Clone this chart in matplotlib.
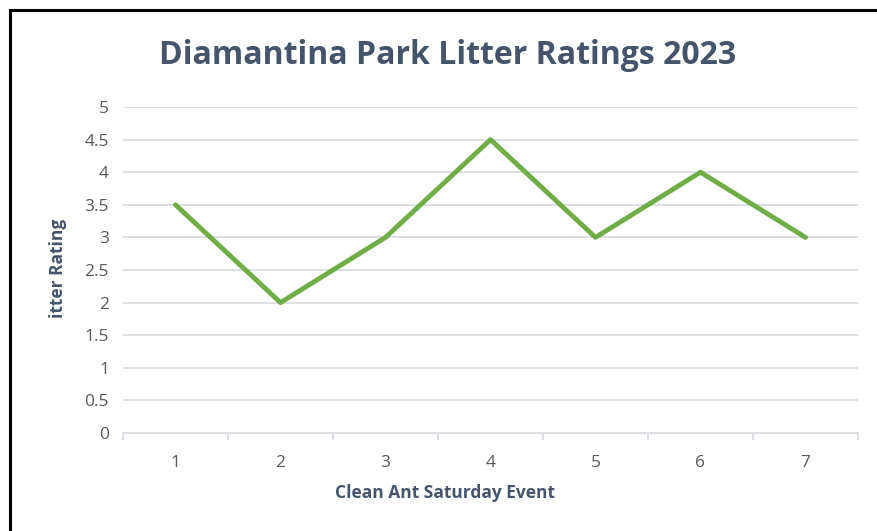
import matplotlib
matplotlib.use("Agg")
import matplotlib.pyplot as plt
from matplotlib.lines import Line2D

events = [1, 2, 3, 4, 5, 6, 7]
ratings = [3.5, 2, 3, 4.5, 3, 4, 3]
yticks = [0, 0.5, 1, 1.5, 2, 2.5, 3, 3.5, 4, 4.5, 5]
ytick_labels = ["0", "0.5", "1", "1.5", "2", "2.5", "3", "3.5", "4", "4.5", "5"]

plt.rcParams['font.family'] = ['Open Sans', 'DejaVu Sans']

W, H = 877, 531
fig = plt.figure(figsize=(W / 100, H / 100), dpi=100)
fig.patch.set_facecolor('white')

# frame border (top and left visible)
fig.add_artist(Line2D([10 / W, 1.0], [1 - 10 / H, 1 - 10 / H], transform=fig.transFigure, color='black', lw=2.2))
fig.add_artist(Line2D([10 / W, 10 / W], [0, 1 - 10 / H], transform=fig.transFigure, color='black', lw=2.2))

left, right = 123 / W, 858 / W
bottom, top = 1 - 433 / H, 1 - 107 / H
ax = fig.add_axes([left, bottom, right - left, top - bottom])

ax.plot(events, ratings, color='#70AD47', lw=3.5, solid_joinstyle='round', solid_capstyle='round', zorder=3)

ax.set_xlim(0.5, 7.5)
ax.set_ylim(0, 5)
ax.set_yticks(yticks)
ax.set_yticklabels(ytick_labels)
ax.set_xticks(events)
ax.set_xticklabels([str(e) for e in events])
ax.set_xticks([x + 0.5 for x in range(0, 8)], minor=True)

grid_c = '#D9DDE3'
for y in yticks[1:]:
    ax.axhline(y, color=grid_c, lw=1.3, zorder=1)

for s in ['top', 'right', 'left']:
    ax.spines[s].set_visible(False)
ax.spines['bottom'].set_color(grid_c)
ax.spines['bottom'].set_linewidth(1.3)

ax.tick_params(axis='y', length=0, pad=10, labelsize=12.5, labelcolor='#595959')
ax.tick_params(axis='x', which='major', length=0, pad=16, labelsize=12.5, labelcolor='#595959')
ax.tick_params(axis='x', which='minor', length=5, width=1.3, color=grid_c, direction='out')

fig.text(445 / W, 1 - 493 / H, 'Clean Ant Saturday Event', ha='center', va='center',
         fontsize=12.5, fontweight='bold', color='#44546A')
fig.text(58 / W, 1 - 268 / H, 'itter Rating', ha='center', va='center', rotation=90,
         fontsize=12.5, fontweight='bold', color='#44546A')

fig.text(448 / W, 1 - 56 / H, 'Diamantina Park Litter Ratings 2023', ha='center', va='center',
         fontsize=23, fontweight='bold', color='#44546A')

fig.savefig('out.png', dpi=100, facecolor='white')
